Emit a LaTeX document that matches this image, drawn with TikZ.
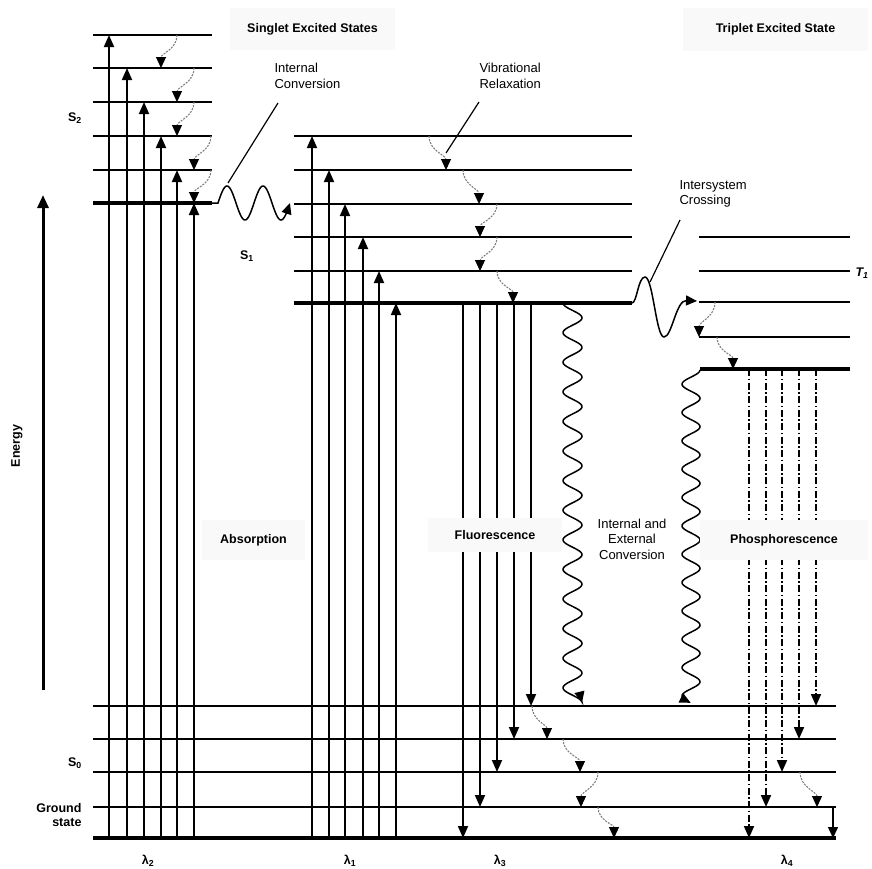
\documentclass[tikz,border=0pt]{standalone}
\usepackage{fontspec}
\setmainfont{Liberation Sans}
\usetikzlibrary{arrows.meta}

\tikzset{
  lvl/.style={line width=1.6pt},
  lvlthick/.style={line width=3.2pt},
  absorb/.style={line width=1.8pt,-{Triangle[length=12pt,width=10pt]}},
  emit/.style={line width=1.8pt,-{Triangle[length=12pt,width=10pt]}},
  phos/.style={line width=1.8pt,dash pattern=on 7pt off 2.5pt on 1.5pt off 2.5pt,-{Triangle[length=12pt,width=10pt]}},
  relax/.style={gray,line width=1.1pt,dash pattern=on 2pt off 1.2pt,-{Triangle[length=11pt,width=10pt,black]}},
  wavy/.style={line width=1.5pt,-{Triangle[length=11pt,width=10pt]}},
  leader/.style={line width=1.2pt},
  labelbox/.style={fill=gray!5,font=\fontsize{12.5}{14}\selectfont\bfseries,inner sep=0pt},
  note/.style={font=\fontsize{13}{15.5}\selectfont},
  statelbl/.style={font=\fontsize{12.5}{14}\selectfont\bfseries}
}

\begin{document}
\begin{tikzpicture}[x=1pt,y=-1pt]
\useasboundingbox (0,0) rectangle (872,868);

% ===== Energy levels =====
\foreach \y in {35,68,102,136,170} {
    \draw[lvl] (93,\y) -- (212,\y);
}
\draw[lvlthick] (93,203) -- (212,203);

\foreach \y in {136,170,204,237,271} {
    \draw[lvl] (294,\y) -- (632,\y);
}
\draw[lvlthick] (294,303) -- (632,303);

\foreach \y in {237,271,302,337} {
    \draw[lvl] (699,\y) -- (850,\y);
}
\draw[lvlthick] (700,369) -- (850,369);

\foreach \y in {706,739,772,807} {
    \draw[lvl] (93,\y) -- (836,\y);
}
\draw[lvlthick] (93,838) -- (836,838);

% ===== Absorption =====
\foreach \x/\y in {109/35,127/68,144/102,161/136,177/170,194/203} {
    \draw[absorb] (\x,838) -- (\x,\y);
}
\foreach \x/\y in {312/136,329/170,345/204,363/237,379/271,396/303} {
    \draw[absorb] (\x,838) -- (\x,\y);
}

% ===== Fluorescence / Phosphorescence =====
\foreach \x/\y in {463/838,480/807,497/772,514/739,531/706} {
    \draw[emit] (\x,303) -- (\x,\y);
}
\foreach \x/\y in {749/838,766/807,782/772,799/739,816/706} {
    \draw[phos] (\x,369) -- (\x,\y);
}
\draw[line width=1.4pt,-{Triangle[length=11pt,width=10pt]}] (833,807) -- (833,838);

% ===== Vibrational relaxation =====
\foreach \xa/\ya/\xb/\yb in {177/35/161/68, 194/68/177/102, 194/102/177/136,
    211/136/194/170, 211/170/194/203,
    429/136/446/170, 463/170/479/204, 497/204/480/237, 497/237/480/271, 497/271/513/303,
    715/302/699/337, 717/337/733/369,
    532/706/547/739, 563/739/580/772, 598/772/581/807, 598/807/614/838, 800/772/817/807} {
    \draw[relax] (\xa,\ya) to[out=-90,in=90] (\xb,\yb);
}

% ===== Internal conversion / intersystem crossing =====
\draw[wavy] (210,203) -- (218,203)
    -- plot[domain=0:2,samples=90] ({218+36*\x},{203-17*sin(360*\x)});
\draw[wavy] (632,303) .. controls (637,303) and (638,277) .. (645,277)
    .. controls (653,277) and (656,337) .. (664,337)
    .. controls (672,337) and (676,300) .. (697,301);

\draw[wavy] plot[domain=0:13.5,samples=400] ({572.5-9.5*cos(360*\x)},{303+29.6*\x});
\draw[wavy] plot[domain=0:11.75,samples=400] ({691+9*cos(360*\x)},{370+28.34*\x});

% ===== Texts =====
\node[note,anchor=north west,align=left] (icText) at (271,60) {Internal\\Conversion};
\node[note,anchor=north west,align=left] (vrText) at (476,60) {Vibrational\\Relaxation};
\node[note,anchor=north west,align=left] (iscText) at (676,177) {Intersystem\\Crossing};
\node[note,align=center] (iecText) at (632,539) {Internal and\\External\\Conversion};

\draw[leader] (228,183) -- (278,103);
\draw[leader] (446,153) -- (479,102);
\draw[leader] (650,282) -- (680,220);

\node[labelbox,minimum width=165pt,minimum height=42pt] (singlet) at (312.5,29) {Singlet Excited States};
\node[labelbox,minimum width=185pt,minimum height=43pt] (triplet) at (775.5,29.5) {Triplet Excited State};
\node[labelbox,minimum width=103pt,minimum height=40pt] (absorption) at (253.5,540) {Absorption};
\node[labelbox,minimum width=134pt,minimum height=34pt] (fluor) at (495,535) {Fluorescence};
\node[labelbox,minimum width=168pt,minimum height=40pt] (phosph) at (784,540) {Phosphorescence};

\node[statelbl] (sTwo) at (75,118) {S\textsubscript{2}};
\node[statelbl] (sOne) at (247,256) {S\textsubscript{1}};
\node[statelbl] (sZero) at (75,763) {S\textsubscript{0}};
\node[statelbl,font=\fontsize{12.5}{14}\selectfont\bfseries\itshape] (tOne) at (862,273) {T\textsubscript{1}};
\node[statelbl,align=right,anchor=east] (ground) at (85,815) {Ground\\state};
\node[statelbl,rotate=90] (energy) at (17,446) {Energy};

\node[statelbl] (lamTwo) at (148,861) {λ\textsubscript{2}};
\node[statelbl] (lamOne) at (350,861) {λ\textsubscript{1}};
\node[statelbl] (lamThree) at (500,861) {λ\textsubscript{3}};
\node[statelbl] (lamFour) at (787,861) {λ\textsubscript{4}};

% ===== Energy axis =====
\draw[line width=3pt,-{Triangle[length=13pt,width=11pt]}] (43,690) -- (43,195);

\end{tikzpicture}
\end{document}
